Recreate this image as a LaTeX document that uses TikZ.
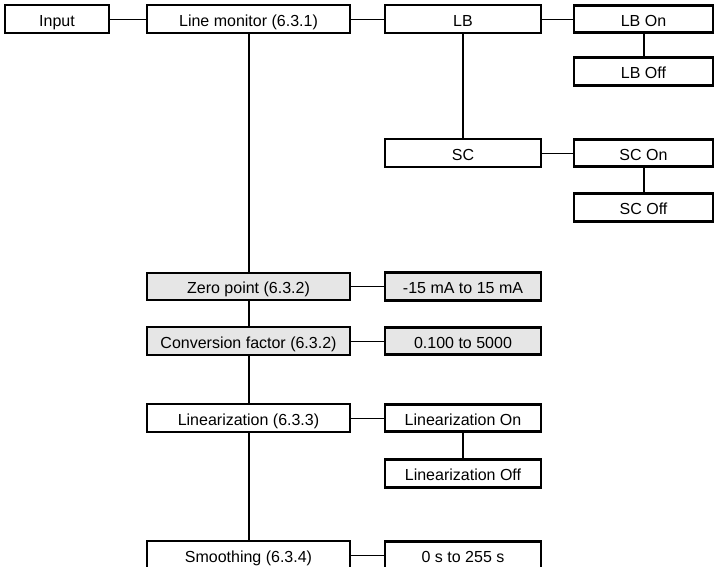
\documentclass[tikz,border=0pt]{standalone}
\usepackage{fontspec}
\setmainfont{Liberation Sans}
\definecolor{boxgray}{HTML}{E6E6E6}
\begin{document}
\begin{tikzpicture}[x=1pt,y=-1pt,
  base/.style={draw=black,rectangle,inner sep=0pt,minimum height=27.5pt,text height=14.5pt,text depth=0pt,font=\fontsize{16}{19}\selectfont,anchor=center},
  thinbox/.style={base,line width=1.8pt},
  thickbox/.style={base,line width=2.8pt},
  wideL/.style={minimum width=203pt},
  wideM/.style={minimum width=156pt},
  wideR/.style={minimum width=139pt},
  shaded/.style={fill=boxgray},
  hcon/.style={line width=1pt},
  vcon/.style={line width=2pt}]
\useasboundingbox (0,0) rectangle (715,566);
% left column
\node[thinbox,minimum width=104pt] (inp) at (57,19) {Input};
\node[thinbox,wideL] (lm) at (248.5,19) {Line monitor (6.3.1)};
\node[thinbox,wideL,shaded] (zp) at (248.5,286.5) {Zero point (6.3.2)};
\node[thinbox,wideL,shaded] (cf) at (248.5,341) {Conversion factor (6.3.2)};
\node[thinbox,wideL] (lin) at (248.5,418) {Linearization (6.3.3)};
\node[thinbox,wideL] (sm) at (248.5,555) {Smoothing (6.3.4)};
% middle column
\node[thinbox,wideM] (lb) at (463,19) {LB};
\node[thinbox,wideM] (sc) at (463,153) {SC};
\node[thickbox,wideM,shaded] (zpv) at (463,286.5) {-15 mA to 15 mA};
\node[thickbox,wideM,shaded] (cfv) at (463,341) {0.100 to 5000};
\node[thickbox,wideM] (linon) at (463,418) {Linearization On};
\node[thickbox,wideM] (linoff) at (463,473.5) {Linearization Off};
\node[thickbox,wideM] (smv) at (463,555) {0 s to 255 s};
% right column
\node[thickbox,wideR] (lbon) at (643.5,19) {LB On};
\node[thickbox,wideR] (lboff) at (643.5,71.5) {LB Off};
\node[thickbox,wideR] (scon) at (643.5,153) {SC On};
\node[thickbox,wideR] (scoff) at (643.5,207.5) {SC Off};
% horizontal connectors
\draw[hcon] (inp) -- (lm);
\draw[hcon] (lm) -- (lb);
\draw[hcon] (lb) -- (lbon);
\draw[hcon] (sc) -- (scon);
\draw[hcon] (zp) -- (zpv);
\draw[hcon] (cf) -- (cfv);
\draw[hcon] (lin) -- (linon);
\draw[hcon] (sm) -- (smv);
% vertical connectors
\draw[vcon] (lm) -- (zp);
\draw[vcon] (zp) -- (cf);
\draw[vcon] (cf) -- (lin);
\draw[vcon] (lin) -- (sm);
\draw[vcon] (lb) -- (sc);
\draw[vcon] (lbon) -- (lboff);
\draw[vcon] (scon) -- (scoff);
\draw[vcon] (linon) -- (linoff);
\end{tikzpicture}
\end{document}
